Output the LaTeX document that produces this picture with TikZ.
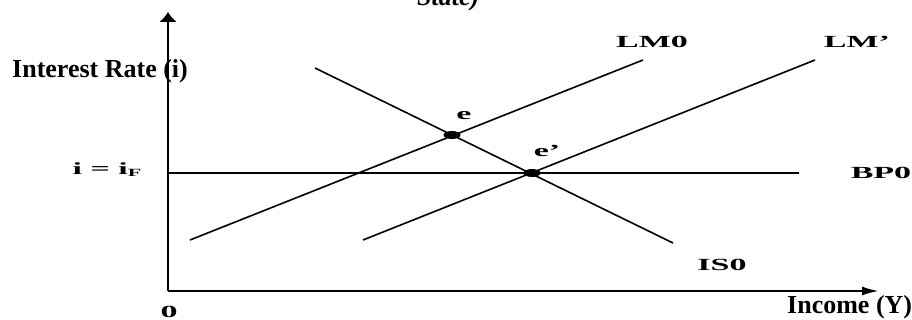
\documentclass[tikz,border=0pt]{standalone}
\usepackage{fontspec}
\setmainfont{Liberation Serif}
\usepackage{graphicx}
\usetikzlibrary{arrows.meta,shapes.geometric}
\newcommand\smlab[1]{\scalebox{2.0}[1]{\fontsize{17}{17}\selectfont\bfseries #1}}
\begin{document}
\begin{tikzpicture}[x=1pt,y=-1pt,
  curve/.style={line width=1.6pt},
  axis/.style={line width=2.2pt},
  big/.style={font=\fontsize{26}{26}\selectfont\bfseries, inner sep=0},
  lab/.style={inner sep=0},
  dot/.style={ellipse, fill=black, minimum width=17pt, minimum height=8pt, inner sep=0}]
\useasboundingbox (0,0) rectangle (912,320);
\clip (0,0) rectangle (912,320);
% axes
\coordinate (O) at (168,291);
\coordinate (ytip) at (168,12);
\coordinate (xtip) at (879,291);
\draw[axis,-{Latex[length=10pt,width=18pt]}] (O) -- (ytip);
\draw[axis,-{Latex[length=17pt,width=9pt]}] (O) -- (xtip);
% curves
\coordinate (lm0a) at (190,240); \coordinate (lm0b) at (643,60);
\coordinate (lm1a) at (363,240); \coordinate (lm1b) at (815,60);
\coordinate (isa) at (315,68);   \coordinate (isb) at (673,243);
\coordinate (bpa) at (168,173);  \coordinate (bpb) at (799,173);
\draw[curve] (lm0a) -- (lm0b);
\draw[curve] (lm1a) -- (lm1b);
\draw[curve] (isa) -- (isb);
\draw[curve] (bpa) -- (bpb);
% equilibrium points
\node[dot] (e) at (452,135) {};
\node[dot] (e1) at (532,173) {};
% labels
\node[big, anchor=base west] (ylab) at (12,78) {Interest Rate (i)};
\node[big, anchor=base west] (xlab) at (787,313) {Income (Y)};
\node[big, anchor=base west, font=\fontsize{26}{26}\selectfont\bfseries\itshape] (title) at (417,6) {State)};
\node[lab] (lLM0) at (652,42) {\smlab{LM0}};
\node[lab] (lLM1) at (857,42) {\smlab{LM'}};
\node[lab] (lBP0) at (881,173) {\smlab{BP0}};
\node[lab] (lIS0) at (722,265) {\smlab{IS0}};
\node[lab] (le) at (464,116) {\smlab{e}};
\node[lab] (le1) at (547,151) {\smlab{e'}};
\node[lab] (lif) at (107,170) {\smlab{i = i\raisebox{-0.25ex}{\fontsize{11}{11}\selectfont F}}};
\node[lab] (lO) at (169,312) {\smlab{0}};
\end{tikzpicture}
\end{document}
